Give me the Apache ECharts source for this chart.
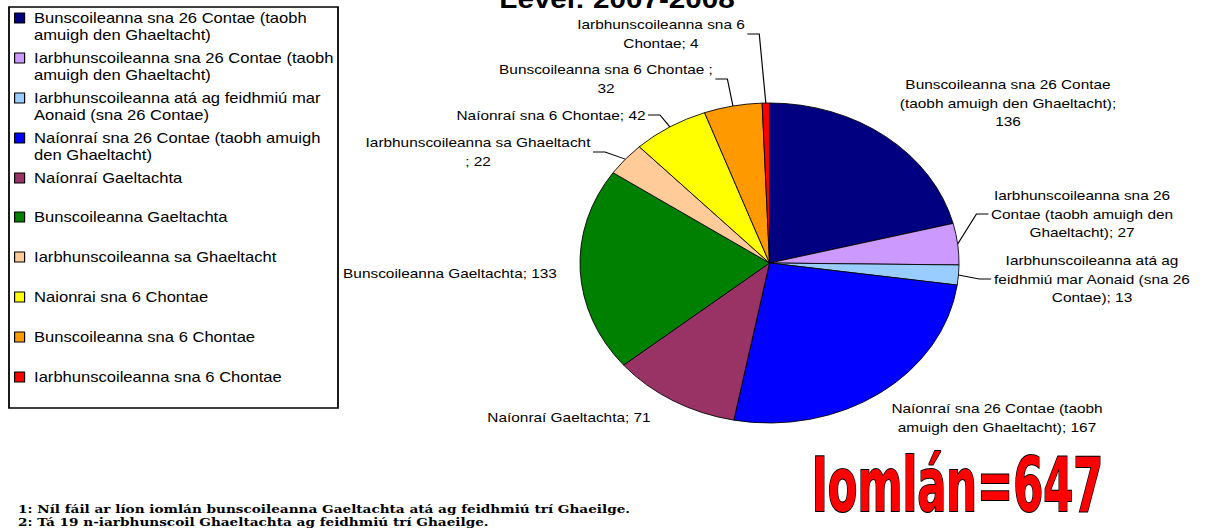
<!DOCTYPE html>
<html><head><meta charset="utf-8">
<script src="https://cdn.jsdelivr.net/npm/echarts@6/dist/echarts.min.js"></script>
<style>
html,body{margin:0;padding:0;background:#fff;overflow:hidden;width:1207px;height:532px}
#chart{width:1019px;height:532px;transform:scaleX(1.18449);transform-origin:0 0;}
</style></head><body><div id="chart"></div>
<script>
// ---- data ----
const categories = [
  'Bunscoileanna sna 26 Contae (taobh amuigh den Ghaeltacht)',
  'Iarbhunscoileanna sna 26 Contae (taobh amuigh den Ghaeltacht)',
  'Iarbhunscoileanna atá ag feidhmiú mar Aonaid (sna 26 Contae)',
  'Naíonraí sna 26 Contae (taobh amuigh den Ghaeltacht)',
  'Naíonraí Gaeltachta',
  'Bunscoileanna Gaeltachta',
  'Iarbhunscoileanna sa Ghaeltacht',
  'Naionrai sna 6 Chontae',
  'Bunscoileanna sna 6 Chontae',
  'Iarbhunscoileanna sna 6 Chontae'
];
const values = [136, 27, 13, 167, 71, 133, 22, 42, 32, 4];
const colors = ['#000080', '#CC99FF', '#99CCFF', '#0000FF', '#993366', '#008000', '#FFCC99', '#FFFF00', '#FF9900', '#FF0000'];
const legendText = [
  'Bunscoileanna sna 26 Contae (taobh\namuigh den Ghaeltacht)',
  'Iarbhunscoileanna sna 26 Contae (taobh\namuigh den Ghaeltacht)',
  'Iarbhunscoileanna atá ag feidhmiú mar\nAonaid (sna 26 Contae)',
  'Naíonraí sna 26 Contae (taobh amuigh\nden Ghaeltacht)',
  'Naíonraí Gaeltachta',
  'Bunscoileanna Gaeltachta',
  'Iarbhunscoileanna sa Ghaeltacht',
  'Naionrai sna 6 Chontae',
  'Bunscoileanna sna 6 Chontae',
  'Iarbhunscoileanna sna 6 Chontae'
];
const labelPrefix = [
  'Bunscoileanna sna 26 Contae\n(taobh amuigh den Ghaeltacht);\n',
  'Iarbhunscoileanna sna 26\nContae (taobh amuigh den\nGhaeltacht); ',
  'Iarbhunscoileanna atá ag\nfeidhmiú mar Aonaid (sna 26\nContae); ',
  'Naíonraí sna 26 Contae (taobh\namuigh den Ghaeltacht); ',
  'Naíonraí Gaeltachta; ',
  'Bunscoileanna Gaeltachta; ',
  'Iarbhunscoileanna sa Ghaeltacht\n; ',
  'Naíonraí sna 6 Chontae; ',
  'Bunscoileanna sna 6 Chontae ;\n',
  'Iarbhunscoileanna sna 6\nChontae; '
];
const titleText = 'Level: 2007-2008';
const totalText = 'Iomlán=647';
const footnotes = [
  '1: Níl fáil ar líon iomlán bunscoileanna Gaeltachta atá ag feidhmiú trí Ghaeilge.',
  '2: Tá 19 n-iarbhunscoil Ghaeltachta ag feidhmiú trí Ghaeilge.'
];

// ---- layout (reference pixel positions) ----
const SX = 1207 / 1019;
const u = x => x / SX;
const labelPos = [[1008,103],[1082,214],[1092,279],[997,418],[569,417],[450,273],[478,152],[551,115],[606,79],[661,34]];
const labelLineOn = [false, true, true, false, false, false, true, true, true, true];
const legendY = [18, 58, 98, 138, 178, 217, 257, 297, 337, 377];
const pieCX = u(769.5), pieCY = 263, pieR = 160;
const sans = "'Liberation Sans', Arial, sans-serif";

const legends = categories.map((name, i) => {
  const two = legendText[i].indexOf('\n') >= 0;
  return {
    data: [name], orient: 'vertical', left: u(14), top: legendY[i] - (two ? 25.5 : 8.5),
    padding: 0, itemWidth: u(10), itemHeight: 10, icon: 'rect', selectedMode: false,
    itemStyle: { borderColor: '#000', borderWidth: 1 },
    // a blank leading line keeps the first text line level with the icon
    formatter: () => (two ? ' \n' : '') + legendText[i],
    textStyle: { fontFamily: sans, fontSize: 14, lineHeight: 17, color: '#000', padding: [0, 0, 0, 3] }
  };
});

const chart = echarts.init(document.getElementById('chart'), null, { renderer: 'svg' });
chart.setOption({
  animation: false,
  backgroundColor: '#fff',
  legend: legends,
  graphic: [
    { type: 'rect', z: -1, shape: { x: u(9), y: 7, width: u(329), height: 401 }, style: { fill: 'none', stroke: '#000', lineWidth: 1.5 } },
    { type: 'text', x: u(617), y: -0.5, style: { text: titleText, font: "bold 25px 'Liberation Sans', Arial, sans-serif", fill: '#000', align: 'center', verticalAlign: 'middle' } },
    { type: 'text', x: u(957.5), y: 485, scaleX: 0.54, style: { text: totalText, font: "bold 75px 'Liberation Sans Narrow', 'DejaVu Sans Condensed', sans-serif", fill: '#FF0000', stroke: '#000', lineWidth: 2, align: 'center', verticalAlign: 'middle', shadowColor: '#000', shadowOffsetX: 2, shadowOffsetY: 2 } },
    { type: 'text', x: u(18), y: 509, style: { text: footnotes[0], font: "bold 11.5px 'DejaVu Serif', serif", fill: '#000', align: 'left', verticalAlign: 'middle' } },
    { type: 'text', x: u(18), y: 522, style: { text: footnotes[1], font: "bold 11.5px 'DejaVu Serif', serif", fill: '#000', align: 'left', verticalAlign: 'middle' } }
  ],
  series: [{
    type: 'pie',
    center: [pieCX, pieCY],
    radius: pieR,
    startAngle: 90,
    clockwise: true,
    avoidLabelOverlap: false,
    emphasis: { disabled: true },
    itemStyle: { borderColor: '#000', borderWidth: 0.8 },
    label: {
      show: true, position: 'outside', color: '#000', fontFamily: sans, fontSize: 13, lineHeight: 18.5,
      formatter: p => labelPrefix[p.dataIndex] + p.value
    },
    labelLine: { show: true, length: 10, length2: 10, lineStyle: { color: '#000', width: 1 } },
    labelLayout: function (params) {
      const i = params.dataIndex;
      const x = u(labelPos[i][0]), y = labelPos[i][1];
      const res = { x: x, y: y, align: 'center', verticalAlign: 'middle' };
      if (labelLineOn[i] && params.labelLinePoints) {
        const w = params.labelRect.width;
        const p0 = params.labelLinePoints[0];
        const leftSide = x < pieCX;
        const ex = leftSide ? x + w / 2 + 2 : x - w / 2 - 2;
        const mx = leftSide ? ex + u(12) : ex - u(12);
        res.labelLinePoints = [[p0[0], p0[1]], [mx, y], [ex, y]];
      }
      return res;
    },
    data: categories.map((name, i) => ({
      name: name, value: values[i], itemStyle: { color: colors[i] }, labelLine: { show: labelLineOn[i] }
    }))
  }]
});
</script></body></html>
